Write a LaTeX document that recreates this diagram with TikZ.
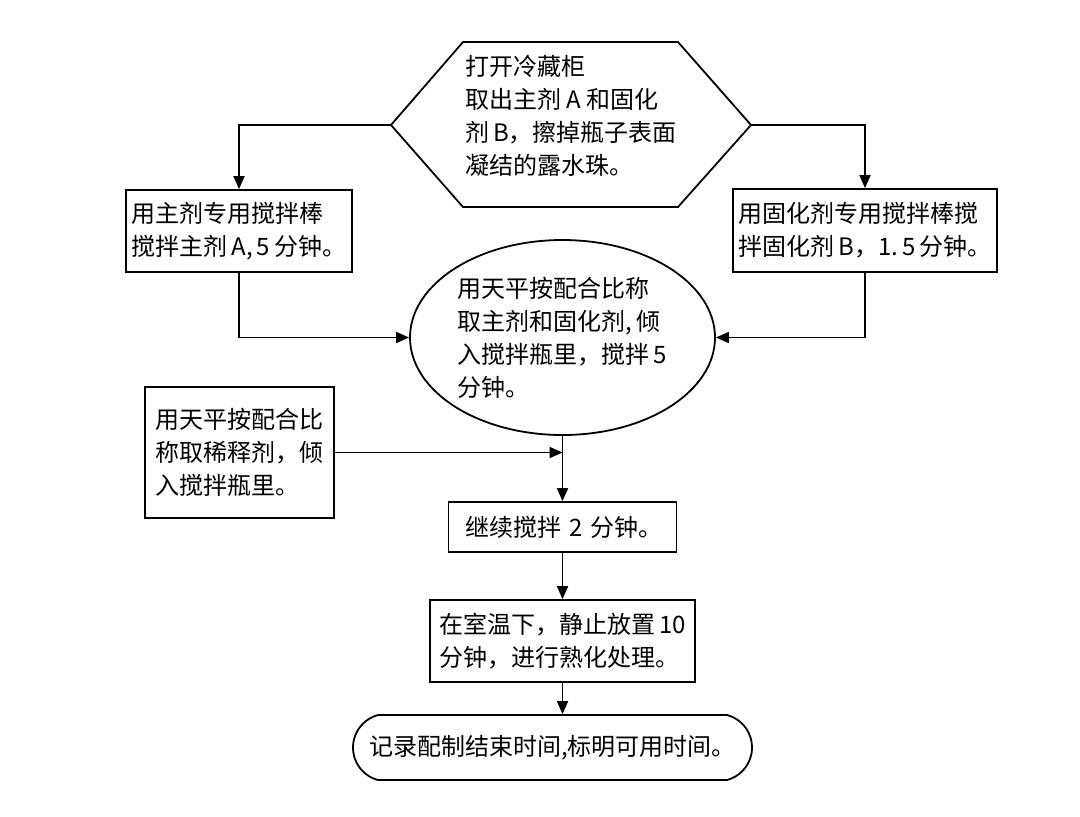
\documentclass[tikz,border=0pt]{standalone}
\usepackage{fontspec}
\setmainfont{Noto Sans CJK SC}
\usetikzlibrary{shapes.geometric,shapes.misc,arrows.meta}

\begin{document}
\begin{tikzpicture}[x=0.5pt,y=-0.5pt,
    every node/.style={font=\fontsize{12}{16.5}\selectfont, inner sep=0pt},
    stepbox/.style={draw, line width=0.9pt, rectangle, align=left},
    arr/.style={line width=0.9pt, -{Triangle[length=6.5pt,width=5.5pt]}}]
    \useasboundingbox (0,0) rectangle (1080,816);

    % top hexagon
    \coordinate (hexL) at (391,125);
    \coordinate (hexR) at (751,125);
    \draw[line width=0.9pt] (hexL) -- (463,42) -- (678,42) -- (hexR) -- (678,207) -- (463,207) -- cycle;
    \node[align=left] (open) at (571,116) {打开冷藏柜\\取出主剂 A 和固化\\剂\,B，擦掉瓶子表面\\凝结的露水珠。};

    \node[stepbox, minimum width=113pt, minimum height=41pt] (mixA) at (239,231) {用主剂专用搅拌棒\\搅拌主剂\,A,\,5\,分钟。};
    \node[stepbox, minimum width=132pt, minimum height=41.5pt] (mixB) at (865,230.5) {用固化剂专用搅拌棒搅\\拌固化剂\,B，1.\,5\,分钟。};

    \node[draw, line width=0.9pt, ellipse, align=left, minimum width=152.5pt, minimum height=97.5pt] (weigh) at (562.5,337.5) {用天平按配合比称\\取主剂和固化剂,\,倾\\入搅拌瓶里，搅拌\,5\\分钟。};

    \node[stepbox, minimum width=94.5pt, minimum height=65.5pt] (dilute) at (239.5,452.5) {用天平按配合比\\称取稀释剂，倾\\入搅拌瓶里。};

    \node[stepbox, minimum width=114pt, minimum height=25pt, text width=97pt] (stir2) at (562.5,527) {继续搅拌~2~分钟。};
    \node[stepbox, minimum width=132.5pt, minimum height=41pt] (cure) at (562.5,641) {在室温下，静止放置\,10\\分钟，进行熟化处理。};
    \node[draw, line width=0.9pt, rounded rectangle, rounded rectangle arc length=150, minimum width=199.5pt, minimum height=32.5pt] (record) at (552.5,747.5) {记录配制结束时间,标明可用时间。};

    \coordinate (join) at (dilute -| stir2);

    \draw[arr] (hexL) -| (mixA);
    \draw[arr] (hexR) -| (mixB);
    \draw[arr] (mixA) |- (weigh);
    \draw[arr] (mixB) |- (weigh);
    \draw[arr] (weigh) -- (stir2);
    \draw[arr] (dilute) -- (join);
    \draw[arr] (stir2) -- (cure);
    \draw[arr] (cure.south) -- (cure.south |- record.north);
\end{tikzpicture}
\end{document}
